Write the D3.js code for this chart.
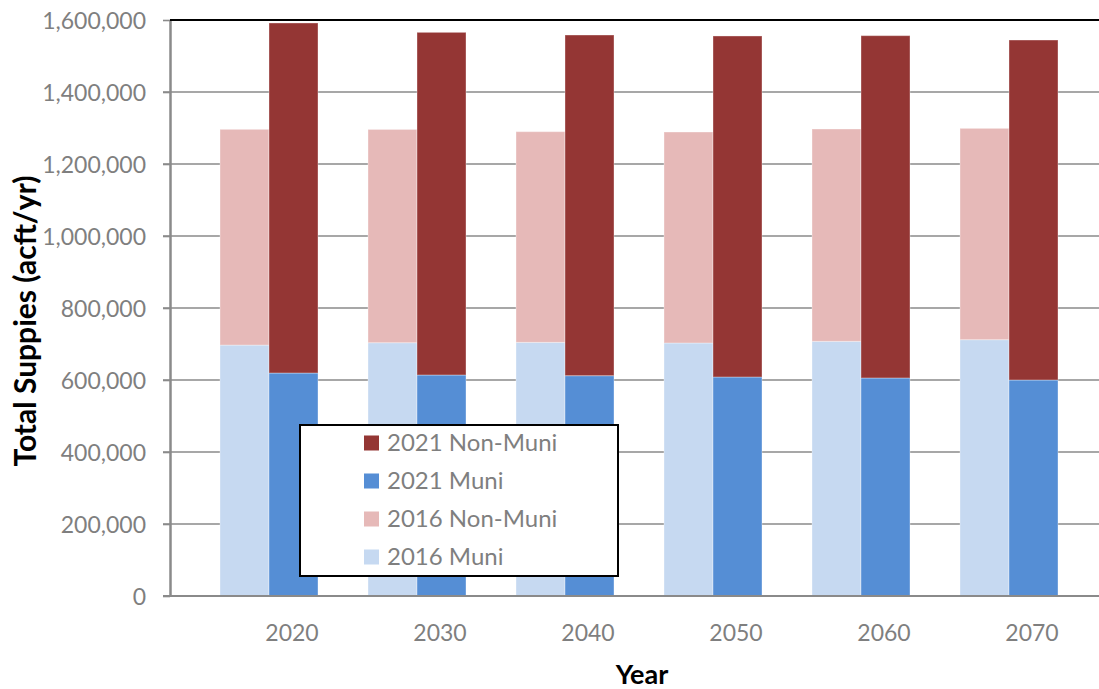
<!DOCTYPE html>
<html>
<head>
<meta charset="utf-8">
<script src="https://cdn.jsdelivr.net/npm/d3@7"></script>
<style>
  html, body { margin: 0; padding: 0; background: #fff; }
  svg { display: block; }
  text { font-family: Lato, "Open Sans", "Liberation Sans", sans-serif; }
</style>
</head>
<body>
<svg id="chart" width="1099" height="689"></svg>
<script>
// Planning years
const years = ["2020", "2030", "2040", "2050", "2060", "2070"];

// Supplies in acre-feet per year
const muni2016    = [697000, 703600, 704600, 702800, 707400, 712000];
const nonMuni2016 = [599300, 592400, 585200, 586100, 589800, 587000];
const muni2021    = [619400, 613900, 612000, 608300, 605600, 600000];
const nonMuni2021 = [972300, 951800, 946300, 947300, 950900, 944400];

const yTicks = [0, 200000, 400000, 600000, 800000, 1000000, 1200000, 1400000, 1600000];

const legendItems = ["2021 Non-Muni", "2021 Muni", "2016 Non-Muni", "2016 Muni"];
const colors = {
  "2021 Non-Muni": "#943634",
  "2021 Muni": "#558ED5",
  "2016 Non-Muni": "#E6B9B8",
  "2016 Muni": "#C6D9F1"
};

const svg = d3.select("#chart");
const plotLeft = 170, plotRight = 1099, plotTop = 20, plotBottom = 596;

const y = d3.scaleLinear().domain([0, 1600000]).range([plotBottom, plotTop]);
const x = d3.scaleBand().domain(years).range([195, 1083]).paddingInner(50 / 148).paddingOuter(25 / 148);
const xs = d3.scaleBand().domain(["2016", "2021"]).range([0, x.bandwidth()]);

// Gridlines
const grid = svg.append("g");
grid.selectAll("line.grid")
  .data(yTicks.filter(d => d > 0 && d < 1600000))
  .join("line")
  .attr("x1", plotLeft - 7).attr("x2", plotRight)
  .attr("y1", d => y(d)).attr("y2", d => y(d))
  .attr("stroke", "#8a8a8a").attr("stroke-width", 1.6);

// Stacked bars
const series = [
  { key: "2016", parts: [["2016 Muni", muni2016], ["2016 Non-Muni", nonMuni2016]] },
  { key: "2021", parts: [["2021 Muni", muni2021], ["2021 Non-Muni", nonMuni2021]] }
];
const bars = svg.append("g");
years.forEach((yr, i) => {
  series.forEach(s => {
    let base = 0;
    s.parts.forEach(([name, vals]) => {
      const v = vals[i];
      bars.append("rect")
        .attr("x", x(yr) + xs(s.key))
        .attr("width", xs.bandwidth())
        .attr("y", y(base + v))
        .attr("height", y(base) - y(base + v))
        .attr("fill", colors[name])
        .attr("stroke", "#ffffff").attr("stroke-opacity", 0.35).attr("stroke-width", 1);
      base += v;
    });
  });
});

// Y axis
const yAxis = d3.axisLeft(y).tickValues(yTicks).tickSize(7).tickSizeOuter(0)
  .tickFormat(d3.format(","));
const yg = svg.append("g").attr("transform", `translate(${plotLeft},0)`).call(yAxis);
yg.select(".domain").attr("stroke", "#8a8a8a").attr("stroke-width", 2.5);
yg.selectAll(".tick line").attr("stroke", "#8a8a8a").attr("stroke-width", 1.6);
yg.selectAll(".tick text")
  .attr("x", -24).attr("dy", "0.35em")
  .attr("fill", "#7f7f7f").attr("font-size", 23)
  .style("font-family", "Lato, 'Open Sans', sans-serif");

// Baseline and top border
svg.append("line")
  .attr("x1", plotLeft - 7).attr("x2", plotRight)
  .attr("y1", y(0)).attr("y2", y(0))
  .attr("stroke", "#8a8a8a").attr("stroke-width", 2);
svg.append("line")
  .attr("x1", plotLeft).attr("x2", plotRight)
  .attr("y1", y(1600000)).attr("y2", y(1600000))
  .attr("stroke", "#000").attr("stroke-width", 2);

// X category labels
svg.append("g").selectAll("text")
  .data(years)
  .join("text")
  .attr("x", d => x(d) + x.bandwidth() / 2 + 23)
  .attr("y", 641)
  .attr("text-anchor", "middle")
  .attr("fill", "#7f7f7f").attr("font-size", 23)
  .text(d => d);

// Axis titles
svg.append("text")
  .attr("x", 642).attr("y", 684)
  .attr("text-anchor", "middle")
  .attr("font-weight", "bold").attr("font-size", 27).attr("fill", "#000")
  .text("Year");
svg.append("text")
  .attr("transform", "translate(36,321) rotate(-90)")
  .attr("text-anchor", "middle")
  .attr("font-weight", "bold").attr("font-size", 30).attr("fill", "#000")
  .text("Total Suppies (acft/yr)");

// Legend
const lg = svg.append("g");
lg.append("rect")
  .attr("x", 300).attr("y", 425).attr("width", 318).attr("height", 151)
  .attr("fill", "#fff").attr("stroke", "#000").attr("stroke-width", 2);
legendItems.forEach((name, i) => {
  const cy = 443 + i * 38;
  lg.append("rect")
    .attr("x", 364).attr("y", cy - 7.5).attr("width", 15).attr("height", 15)
    .attr("fill", colors[name]);
  lg.append("text")
    .attr("x", 387).attr("y", cy).attr("dy", "0.35em")
    .attr("fill", "#7f7f7f").attr("font-size", 24)
    .text(name);
});
</script>
</body>
</html>
